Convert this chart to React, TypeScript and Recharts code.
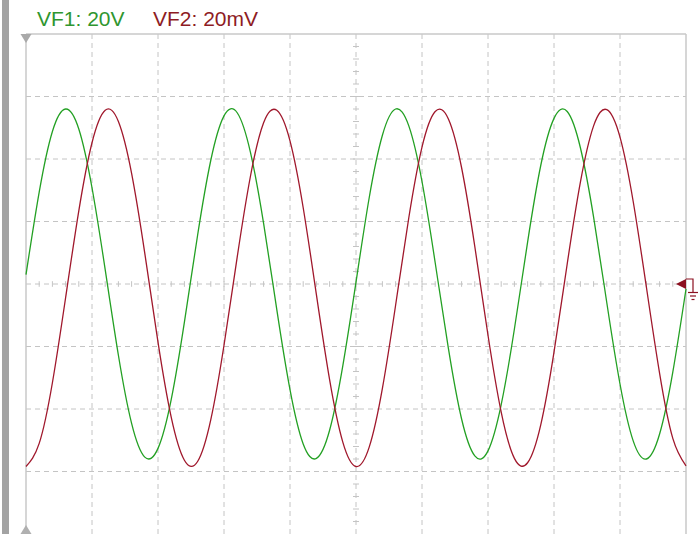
import React from 'react';
import { ComposedChart, Line, XAxis, YAxis, ReferenceLine, ReferenceDot } from 'recharts';

// time axis, in screen divisions (0..10)
const timeDiv = [
  0, 0.2, 0.4, 0.6, 0.8, 1, 1.2, 1.4, 1.6, 1.8,
  2, 2.2, 2.4, 2.6, 2.8, 3, 3.2, 3.4, 3.6, 3.8,
  4, 4.2, 4.4, 4.6, 4.8, 5, 5.2, 5.4, 5.6, 5.8,
  6, 6.2, 6.4, 6.6, 6.8, 7, 7.2, 7.4, 7.6, 7.8,
  8, 8.2, 8.4, 8.6, 8.8, 9, 9.2, 9.4, 9.6, 9.8, 10,
];

// VF1 (green), in vertical divisions
const vf1 = [
  0.15, 1.47, 2.44, 2.8, 2.48, 1.54, 0.23, -1.14, -2.23, -2.77,
  -2.63, -1.85, -0.61, 0.78, 1.98, 2.69, 2.74, 2.11, 0.97, -0.41,
  -1.69, -2.56, -2.79, -2.34, -1.31, 0.03, 1.38, 2.38, 2.8, 2.53,
  1.64, 0.34, -1.03, -2.16, -2.75, -2.67, -1.93, -0.72, 0.67, 1.9,
  2.65, 2.76, 2.18, 1.07, -0.3, -1.6, -2.51, -2.8, -2.4, -1.41, -0.08,
];

// VF2 (dark red), in vertical divisions
const vf2 = [
  -2.92, -2.55, -1.58, -0.22, 1.17, 2.26, 2.78, 2.6, 1.77, 0.49,
  -0.93, -2.13, -2.82, -2.84, -2.17, -0.98, 0.43, 1.72, 2.58, 2.78,
  2.29, 1.22, -0.17, -1.53, -2.53, -2.92, -2.61, -1.67, -0.34, 1.06,
  2.19, 2.76, 2.64, 1.86, 0.6, -0.82, -2.05, -2.79, -2.86, -2.25,
  -1.09, 0.32, 1.63, 2.53, 2.79, 2.35, 1.32, -0.05, -1.43, -2.47, -2.91,
];

const legendLabels = ['VF1: 20V', 'VF2: 20mV'];

const gridX = [1, 2, 3, 4, 5, 6, 7, 8, 9];
const gridY = [-3, -2, -1, 0, 1, 2, 3];
const minorX = Array.from({ length: 49 }, (_, i) => +((i + 1) * 0.2).toFixed(1));
const minorY = Array.from({ length: 39 }, (_, i) => +(-3.8 + i * 0.2).toFixed(1));

const table = timeDiv.map((t, i) => ({ t, vf1: vf1[i], vf2: vf2[i] }));

const GREEN = '#23a023';
const RED = '#a0182c';
const GRID = '#c4c4c4';
const BORDER = '#c8c8c8';

const TopTri = (p: any) => (
  <polygon points={`${p.cx - 5.5},${p.cy} ${p.cx + 5.5},${p.cy} ${p.cx},${p.cy + 9}`} fill="#a9a9a9" />
);
const BottomTri = (p: any) => (
  <polygon points={`${p.cx - 5.5},${p.cy} ${p.cx + 5.5},${p.cy} ${p.cx},${p.cy - 9}`} fill="#b0b0b0" />
);
const GroundMarker = (p: any) => {
  const { cx, cy } = p;
  return (
    <g>
      <polygon points={`${cx - 10},${cy} ${cx},${cy - 5} ${cx},${cy + 5}`} fill="#8c1020" />
      <polyline points={`${cx},${cy - 5} ${cx + 7},${cy - 5} ${cx + 7},${cy + 8}`} fill="none" stroke="#8c1020" strokeWidth={1.2} />
      <line x1={cx + 2} y1={cy + 8.5} x2={cx + 12} y2={cy + 8.5} stroke="#8c1020" strokeWidth={1.2} />
      <line x1={cx + 4} y1={cy + 12} x2={cx + 10} y2={cy + 12} stroke="#8c1020" strokeWidth={1.2} />
      <line x1={cx + 5.5} y1={cy + 15.5} x2={cx + 8.5} y2={cy + 15.5} stroke="#8c1020" strokeWidth={1.2} />
    </g>
  );
};

export default function App() {
  return (
    <div
      style={{
        position: 'absolute',
        left: 0,
        top: 0,
        width: 700,
        height: 534,
        background: '#fff',
        overflow: 'hidden',
        fontFamily: '"Liberation Sans", Arial, sans-serif',
      }}
    >
      <div style={{ position: 'absolute', left: 2, top: 0, width: 7, height: 534, background: '#a3a3a3' }} />
      <div style={{ position: 'absolute', left: 37, top: 7, fontSize: 21, lineHeight: '24px', color: '#2f962f', whiteSpace: 'nowrap' }}>
        {legendLabels[0]}
      </div>
      <div style={{ position: 'absolute', left: 153, top: 7, fontSize: 21, lineHeight: '24px', color: '#8e1c24', whiteSpace: 'nowrap' }}>
        {legendLabels[1]}
      </div>
      <div style={{ position: 'absolute', left: 0, top: 0 }}>
        <ComposedChart width={700} height={534} data={table} margin={{ top: 34, right: 14, bottom: 0, left: 26 }}>
          <XAxis type="number" dataKey="t" domain={[0, 10]} hide />
          <YAxis type="number" domain={[-4, 4]} hide />
          {gridX.map((x) => (
            <ReferenceLine key={'gx' + x} x={x} stroke={GRID} strokeDasharray="5 4" strokeWidth={1} />
          ))}
          {gridY.map((y) => (
            <ReferenceLine key={'gy' + y} y={y} stroke={GRID} strokeDasharray="5 4" strokeWidth={1} />
          ))}
          {minorX.map((x) => (
            <ReferenceLine
              key={'mx' + x}
              segment={[{ x, y: -0.045 }, { x, y: 0.045 }]}
              stroke={GRID}
              strokeWidth={1}
            />
          ))}
          {minorY.map((y) => (
            <ReferenceLine
              key={'my' + y}
              segment={[{ x: 4.955, y }, { x: 5.045, y }]}
              stroke={GRID}
              strokeWidth={1}
            />
          ))}
          <ReferenceLine y={4} stroke={BORDER} strokeWidth={1.5} />
          <ReferenceLine x={0} stroke={BORDER} strokeWidth={1.5} />
          <ReferenceLine x={10} stroke={BORDER} strokeWidth={1.5} />
          <Line type="natural" dataKey="vf1" stroke={GREEN} strokeWidth={1.3} dot={false} isAnimationActive={false} />
          <Line type="natural" dataKey="vf2" stroke={RED} strokeWidth={1.3} dot={false} isAnimationActive={false} />
          <ReferenceDot x={0} y={4} r={0} shape={TopTri} />
          <ReferenceDot x={0} y={-4} r={0} shape={BottomTri} />
          <ReferenceDot x={10} y={0} r={0} shape={GroundMarker} />
        </ComposedChart>
      </div>
    </div>
  );
}
